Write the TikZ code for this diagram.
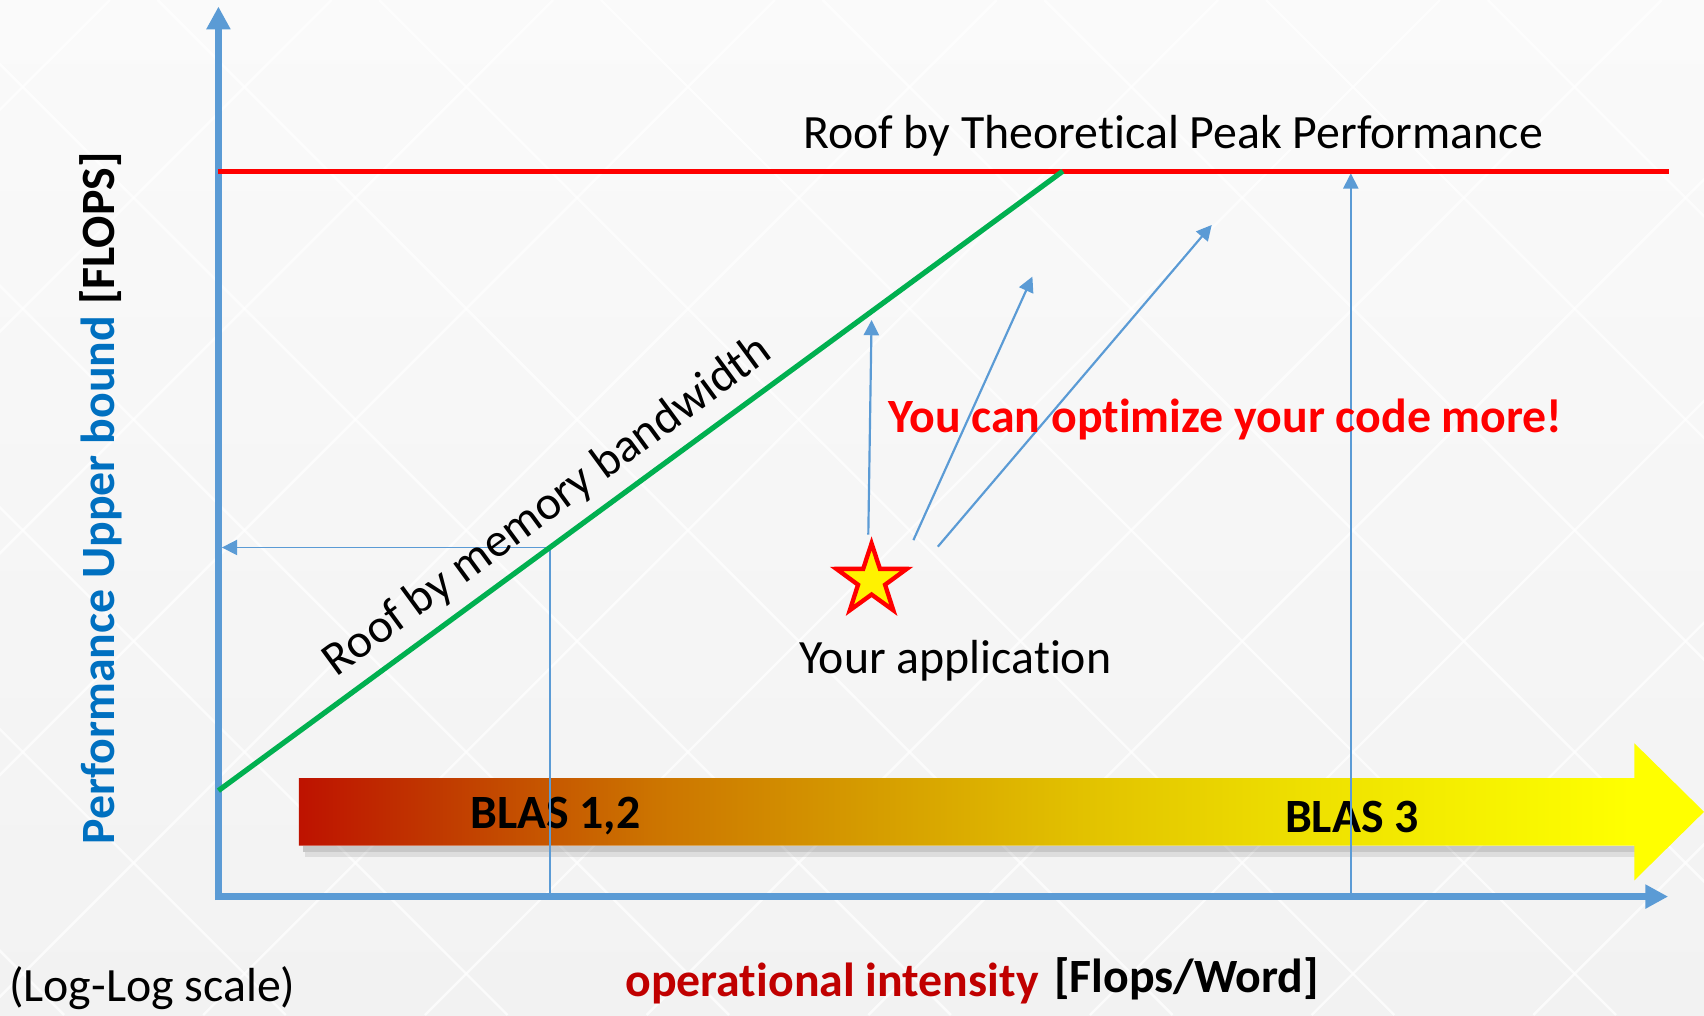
\documentclass[tikz,border=0pt]{standalone}
\usepackage{fontspec}
\setmainfont{Carlito}[Ligatures={NoCommon}]
\usetikzlibrary{arrows.meta,shapes.geometric,calc}

\definecolor{axisblue}{HTML}{5B9BD5}
\definecolor{labelblue}{HTML}{0070C0}
\definecolor{peakred}{HTML}{FF0000}
\definecolor{bwgreen}{HTML}{00B050}
\definecolor{darkred}{HTML}{C00000}
\definecolor{bgtop}{HTML}{FAFAFA}
\definecolor{bgbottom}{HTML}{F2F2F2}
\definecolor{g0}{HTML}{BE1200}
\definecolor{g1}{HTML}{C03800}
\definecolor{g2}{HTML}{CC7400}
\definecolor{g3}{HTML}{D59C00}
\definecolor{g4}{HTML}{E2C200}
\definecolor{g5}{HTML}{EEE000}
\definecolor{g6}{HTML}{F8F500}
\definecolor{g7}{HTML}{FFFF00}

% red -> orange -> yellow ramp for the BLAS arrow
\pgfdeclarehorizontalshading{blasgrad}{100bp}{color(0bp)=(g0); color(25bp)=(g0);
  color(29.8bp)=(g1); color(37.6bp)=(g2); color(45.3bp)=(g3); color(53bp)=(g4);
  color(60.8bp)=(g5); color(68.5bp)=(g6); color(72.4bp)=(g7); color(100bp)=(g7)}

\begin{document}
\begin{tikzpicture}[x=0.5pt,y=-0.5pt,
  txt/.style={font=\fontsize{22}{26}\selectfont, inner sep=0pt, text=black},
  btxt/.style={font=\fontsize{22}{26}\selectfont\bfseries, inner sep=0pt},
  axis/.style={axisblue, line width=3.2pt, -{Triangle[length=10.5pt,width=10.5pt]}},
  guide/.style={axisblue, line width=0.75pt},
  guidearrow/.style={guide, -{Triangle[length=7pt,width=7pt]}},
  tryarrow/.style={axisblue, line width=1pt, -{Triangle[length=7pt,width=7pt]}},
  roofline/.style={line width=2.4pt},
  lattice/.style={white, line width=1.1pt, opacity=.7}]

% canvas and faint diamond lattice
\useasboundingbox (0,0) rectangle (1568,934);
\shade[top color=bgtop, bottom color=bgbottom] (0,0) rectangle (1568,934);
\begin{scope}
  \clip (0,0) rectangle (1568,934);
  \foreach \k in {-4,...,7}{
    \draw[lattice] (917+\k*204,0) -- ++(-934,934);
  }
  \foreach \k in {-5,...,6}{
    \draw[lattice] (145+\k*204,0) -- ++(934,934);
  }
\end{scope}

% key points
\coordinate (O) at (201,825);
\coordinate (ytop) at (201,6);
\coordinate (xend) at (1535,825);
\coordinate (peakL) at (201,157.5);
\coordinate (peakR) at (1536,157.5);
\coordinate (bwL) at (201,727.5);
\coordinate (bwR) at (978,157.5);

% BLAS arrow with soft shadow
\fill[black, opacity=.18] (279,778) rectangle (1505,784);
\fill[black, opacity=.09] (281,784) rectangle (1505,789);
\shade[shading=blasgrad] (275,716) -- (1504,716) -- (1504,684) -- (1568,747)
  -- (1504,810) -- (1504,778) -- (275,778) -- cycle;
\node[btxt, anchor=base] (blas12) at (511,762) {BLAS 1,2};
\node[btxt, anchor=base] (blas3) at (1244,766) {BLAS 3};

% guides from the roofs to the axes
\coordinate (m) at ($(bwL)!0.3925!(bwR)$);
\draw[guidearrow, shorten >=1.6pt] (m) -- (m -| O);
\draw[guide] (m) -- (m |- O);
\coordinate (b3) at (1243,825);
\coordinate (b3top) at (1243,159.5);
\draw[guidearrow] (b3) -- (b3top);

% axes
\draw[axis, shorten <=-1.6pt] (O) -- (ytop);
\draw[axis, shorten <=-1.6pt] (O) -- (xend);

% roofs
\draw[peakred, roofline] (peakL) -- (peakR);
\node[txt, anchor=base east] (peaklbl) at (1420,137) {Roof by Theoretical Peak Performance};
\draw[bwgreen, roofline] (bwL) -- (bwR)
  node[pos=0.414, sloped, above=5pt, txt] (bwlbl) {Roof by memory bandwidth};

% the application and its improvement directions
\node[star, star points=5, star point ratio=2.6, minimum size=34pt, inner sep=0pt,
  fill=yellow, draw=peakred, line width=2pt, line join=miter] (app) at (802,534) {};
\node[txt, anchor=base west] (applbl) at (735,620) {Your application};
\coordinate (s1) at (799,492);
\coordinate (e1) at (802,294.5);
\coordinate (s2) at (840.5,497);
\coordinate (e2) at (950,254.5);
\coordinate (s3) at (863,503);
\coordinate (e3) at (1115,207);
\draw[tryarrow] (s1) -- (e1);
\draw[tryarrow] (s2) -- (e2);
\draw[tryarrow] (s3) -- (e3);
\node[btxt, anchor=base west, text=peakred] (optlbl) at (817,398) {You can optimize your code more!};

% axis labels
\node[btxt, anchor=base, rotate=90] (ylbl) at (105,458.5)
  {\textcolor{labelblue}{Performance Upper bound} [FLOPS]};
\node[btxt, anchor=base east, text=darkred] (xlbl1) at (956,917) {operational intensity};
\node[btxt, anchor=base west] (xlbl2) at (969.5,913.5) {[Flops/Word]};
\node[txt, anchor=base west] (scalelbl) at (8,922) {(Log-Log scale)};
\end{tikzpicture}
\end{document}
